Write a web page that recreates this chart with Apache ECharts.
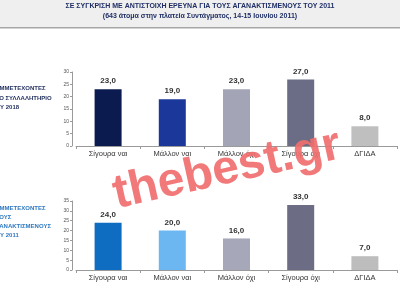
<!DOCTYPE html>
<html><head><meta charset="utf-8">
<script src="https://cdn.jsdelivr.net/npm/echarts@6/dist/echarts.min.js"></script>
<style>html,body{margin:0;padding:0;background:#fff}#c{width:400px;height:300px}</style>
</head><body><div id="c"></div>
<script>
var categories = ['Σίγουρα ναι', 'Μάλλον ναι', 'Μάλλον όχι', 'Σίγουρα όχι', 'ΔΓΙΔΑ'];
var values2018 = [23.0, 19.0, 23.0, 27.0, 8.0];
var values2011 = [24.0, 20.0, 16.0, 33.0, 7.0];
var colors2018 = ['#0c1b4f', '#1b379a', '#a3a5b7', '#6b6c86', '#bfbfbf'];
var colors2011 = ['#0e6cc1', '#6cb7f2', '#a6a7b8', '#6c6c84', '#bdbdbd'];
var title1 = 'ΣΕ ΣΥΓΚΡΙΣΗ ΜΕ ΑΝΤΙΣΤΟΙΧΗ ΕΡΕΥΝΑ ΓΙΑ ΤΟΥΣ ΑΓΑΝΑΚΤΙΣΜΕΝΟΥΣ ΤΟΥ 2011';
var title2 = '(643 άτομα στην πλατεία Συντάγματος, 14-15 Ιουνίου 2011)';
var side2018 = ['ΣΥΜΜΕΤΕΧΟΝΤΕΣ', 'ΣΤΟ ΣΥΛΛΑΛΗΤΗΡΙΟ', 'ΤΟΥ 2018'];
var side2011 = ['ΣΥΜΜΕΤΕΧΟΝΤΕΣ', 'ΣΤΟΥΣ', 'ΑΓΑΝΑΚΤΙΣΜΕΝΟΥΣ', 'ΤΟΥ 2011'];
var watermark = 'thebest.gr';

var chart = echarts.init(document.getElementById('c'), null, {renderer: 'canvas'});
function fmt(p){ return p.value.toFixed(1).replace('.', ','); }
function xAxisCfg(idx){
  return {
    type: 'category', gridIndex: idx, data: categories,
    axisLine: {lineStyle: {color: '#9a9a9a', width: 1}},
    axisTick: {show: true, length: 3, lineStyle: {color: '#9a9a9a'}},
    axisLabel: {color: '#333', fontSize: 7.5, fontFamily: 'Liberation Sans', margin: 4}
  };
}
function yAxisCfg(idx, max){
  return {
    type: 'value', gridIndex: idx, min: 0, max: max, interval: 5, offset: 4,
    axisLine: {show: true, lineStyle: {color: '#9a9a9a'}},
    axisTick: {show: true, length: 2, lineStyle: {color: '#9a9a9a'}},
    splitLine: {show: false},
    axisLabel: {color: '#555', fontSize: 5, fontFamily: 'Liberation Sans', margin: 3}
  };
}
function barSeries(idx, vals, cols){
  return {
    type: 'bar', xAxisIndex: idx, yAxisIndex: idx, barWidth: 27,
    data: vals.map(function(v, i){ return {value: v, itemStyle: {color: cols[i]}}; }),
    label: {show: true, position: 'top', distance: 4, formatter: fmt,
            color: '#333', fontSize: 8, fontWeight: 'bold', fontFamily: 'Liberation Sans'}
  };
}
var graphics = [
  {type: 'rect', shape: {x: 0, y: 0, width: 400, height: 27}, style: {fill: '#efefef'}, z: 0},
  {type: 'rect', shape: {x: 0, y: 27, width: 400, height: 1.5}, style: {fill: '#a6a6a6'}, z: 0},
  {type: 'text', left: 'center', top: 3, z: 5,
   style: {text: title1, fill: '#1f2f66', font: 'bold 7px "Liberation Sans", sans-serif'}},
  {type: 'text', left: 'center', top: 13, z: 5,
   style: {text: title2, fill: '#1f2f66', font: 'bold 7px "Liberation Sans", sans-serif'}},
  {type: 'text', x: -8, y: 84, z: 5,
   style: {text: side2018.join('\n'), fill: '#1f2d5c', lineHeight: 9.5, font: 'bold 6px "Liberation Sans", sans-serif'}},
  {type: 'text', x: -8, y: 204, z: 5,
   style: {text: side2011.join('\n'), fill: '#2e78c0', lineHeight: 9, font: 'bold 6px "Liberation Sans", sans-serif'}},
  {type: 'text', x: 227, y: 170, rotation: 0.22, z: 100,
   style: {text: watermark, fill: 'rgba(240,110,110,0.92)', align: 'center', verticalAlign: 'middle',
           font: 'bold 48px "Liberation Sans", sans-serif'}}
];
chart.setOption({
  animation: false,
  grid: [
    {left: 76, right: 3, top: 72, bottom: 154},
    {left: 76, right: 3, top: 201, bottom: 30}
  ],
  xAxis: [xAxisCfg(0), xAxisCfg(1)],
  yAxis: [yAxisCfg(0, 30), yAxisCfg(1, 35)],
  series: [barSeries(0, values2018, colors2018), barSeries(1, values2011, colors2011)],
  graphic: graphics
});
</script></body></html>
